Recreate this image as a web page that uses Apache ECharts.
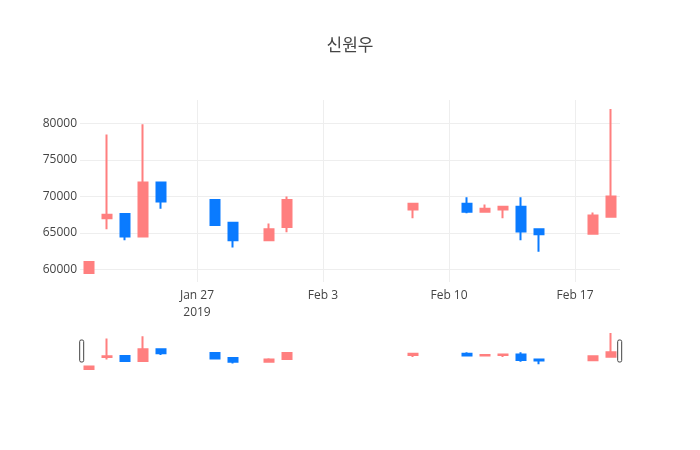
<!DOCTYPE html>
<html>
<head>
<meta charset="utf-8">
<script src="https://cdn.jsdelivr.net/npm/echarts@6/dist/echarts.min.js"></script>
<style>
  html, body { margin: 0; padding: 0; background: #fff; }
  #main { width: 700px; height: 450px; }
</style>
</head>
<body>
<div id="main"></div>
<script>
// daily prices, 2019
var dates = ['2019-01-21', '2019-01-22', '2019-01-23', '2019-01-24', '2019-01-25',
	'2019-01-28', '2019-01-29', '2019-01-31', '2019-02-01', '2019-02-08',
	'2019-02-11', '2019-02-12', '2019-02-13', '2019-02-14', '2019-02-15',
	'2019-02-18', '2019-02-19'];
var openVals  = [59500, 67000, 67600, 64500, 71900, 69500, 66400, 64000, 65800, 68200, 69000, 67900, 68200, 68600, 65500, 64900, 67200];
var closeVals = [61000, 67500, 64500, 71900, 69300, 66100, 64000, 65500, 69500, 69000, 67900, 68300, 68600, 65200, 64800, 67400, 70000];
var lowVals   = [59500, 65500, 64000, 64500, 68300, 66100, 63000, 64000, 65100, 67000, 67700, 67900, 67000, 64000, 62400, 64900, 67200];
var highVals  = [61000, 78500, 67600, 79900, 71900, 69500, 66400, 66300, 70000, 69000, 69900, 68900, 68600, 69900, 65500, 67800, 82000];

// x ticks every 7 days starting Jan 27
var tickLabels = ['Jan 27\n2019', 'Feb 3', 'Feb 10', 'Feb 17'];

var UP = '#ff7f7f';
var DOWN = '#0a7bff';
var DAY = 86400000;
var origin = Date.UTC(2019, 0, 27);

function dayOffset(s) {
	var p = s.split('-');
	return (Date.UTC(+p[0], +p[1] - 1, +p[2]) - origin) / DAY;
}

var candles = [];
for (var i = 0; i < dates.length; i++) {
	candles.push([dayOffset(dates[i]), openVals[i], closeVals[i], lowVals[i], highVals[i]]);
}

var xMin = dayOffset(dates[0]) - 0.5;
var xMax = dayOffset(dates[dates.length - 1]) + 0.5;
var lo = Math.min.apply(null, lowVals);
var hi = Math.max.apply(null, highVals);
var pad = (hi - lo) * 0.055;
var yMin = lo - pad;
var yMax = hi + pad;

var labelFont = { color: '#444', fontFamily: 'Open Sans', fontSize: 12 };

var candleStyle = {
	color: UP,
	color0: DOWN,
	borderColor: UP,
	borderColor0: DOWN,
	borderWidth: 2
};

var option = {
	animation: false,
	backgroundColor: '#fff',
	title: {
		text: '신원우',
		left: 'center',
		top: 31,
		textStyle: {
			color: '#444',
			fontFamily: 'Noto Sans CJK KR',
			fontSize: 17,
			fontWeight: 'normal'
		}
	},
	grid: [
		{ left: 80, right: 80, top: 100, height: 182 },
		{ left: 80, right: 80, top: 331, height: 40 }
	],
	xAxis: [
		{
			type: 'value',
			gridIndex: 0,
			min: xMin,
			max: xMax,
			minInterval: 7,
			maxInterval: 7,
			axisLine: { show: false },
			axisTick: { show: false },
			splitLine: { show: true, showMinLine: false, showMaxLine: false, lineStyle: { color: '#eee', width: 1 } },
			axisLabel: {
				color: labelFont.color,
				fontFamily: labelFont.fontFamily,
				fontSize: labelFont.fontSize,
				lineHeight: 17,
				margin: 5,
				showMinLabel: false,
				showMaxLabel: false,
				formatter: function (v) {
					var k = Math.round(v / 7);
					if (Math.abs(v - k * 7) > 1e-6) return '';
					return tickLabels[k] || '';
				}
			}
		},
		{
			type: 'value',
			gridIndex: 1,
			min: xMin,
			max: xMax,
			show: false
		}
	],
	yAxis: [
		{
			type: 'value',
			gridIndex: 0,
			min: yMin,
			max: yMax,
			minInterval: 5000,
			maxInterval: 5000,
			axisLine: { show: false },
			axisTick: { show: false },
			splitLine: { show: true, showMinLine: false, showMaxLine: false, lineStyle: { color: '#eee', width: 1 } },
			axisLabel: {
				color: labelFont.color,
				fontFamily: labelFont.fontFamily,
				fontSize: labelFont.fontSize,
				margin: 3,
				showMinLabel: false,
				showMaxLabel: false,
				formatter: function (v) {
					return String(Math.round(v));
				}
			}
		},
		{
			type: 'value',
			gridIndex: 1,
			min: yMin,
			max: yMax,
			show: false
		}
	],
	dataZoom: [
		{
			type: 'slider',
			xAxisIndex: 1,
			filterMode: 'none',
			start: 0,
			end: 100,
			left: 80,
			right: 80,
			top: 331,
			height: 40,
			showDetail: false,
			showDataShadow: false,
			brushSelect: false,
			zoomLock: true,
			backgroundColor: 'rgba(0,0,0,0)',
			borderColor: 'rgba(0,0,0,0)',
			fillerColor: 'rgba(0,0,0,0)',
			moveHandleSize: 0,
			moveHandleStyle: { opacity: 0 },
			handleIcon: 'path://M1.5,0 h1 a1.5,1.5 0 0 1 1.5,1.5 v19 a1.5,1.5 0 0 1 -1.5,1.5 h-1 a1.5,1.5 0 0 1 -1.5,-1.5 v-19 a1.5,1.5 0 0 1 1.5,-1.5 z',
			handleSize: 22,
			handleStyle: { color: '#fff', borderColor: '#444', borderWidth: 1 },
			emphasis: {
				handleStyle: { color: '#fff', borderColor: '#444', borderWidth: 1 },
				moveHandleStyle: { opacity: 0 }
			},
			dataBackground: { lineStyle: { opacity: 0 }, areaStyle: { opacity: 0 } },
			selectedDataBackground: { lineStyle: { opacity: 0 }, areaStyle: { opacity: 0 } }
		}
	],
	series: [
		{
			type: 'candlestick',
			xAxisIndex: 0,
			yAxisIndex: 0,
			barWidth: 9,
			itemStyle: candleStyle,
			data: candles
		},
		{
			type: 'candlestick',
			xAxisIndex: 1,
			yAxisIndex: 1,
			barWidth: 9,
			itemStyle: candleStyle,
			data: candles
		}
	]
};

var myChart = echarts.init(document.getElementById('main'), null, { renderer: 'canvas' });
myChart.setOption(option);
</script>
</body>
</html>
